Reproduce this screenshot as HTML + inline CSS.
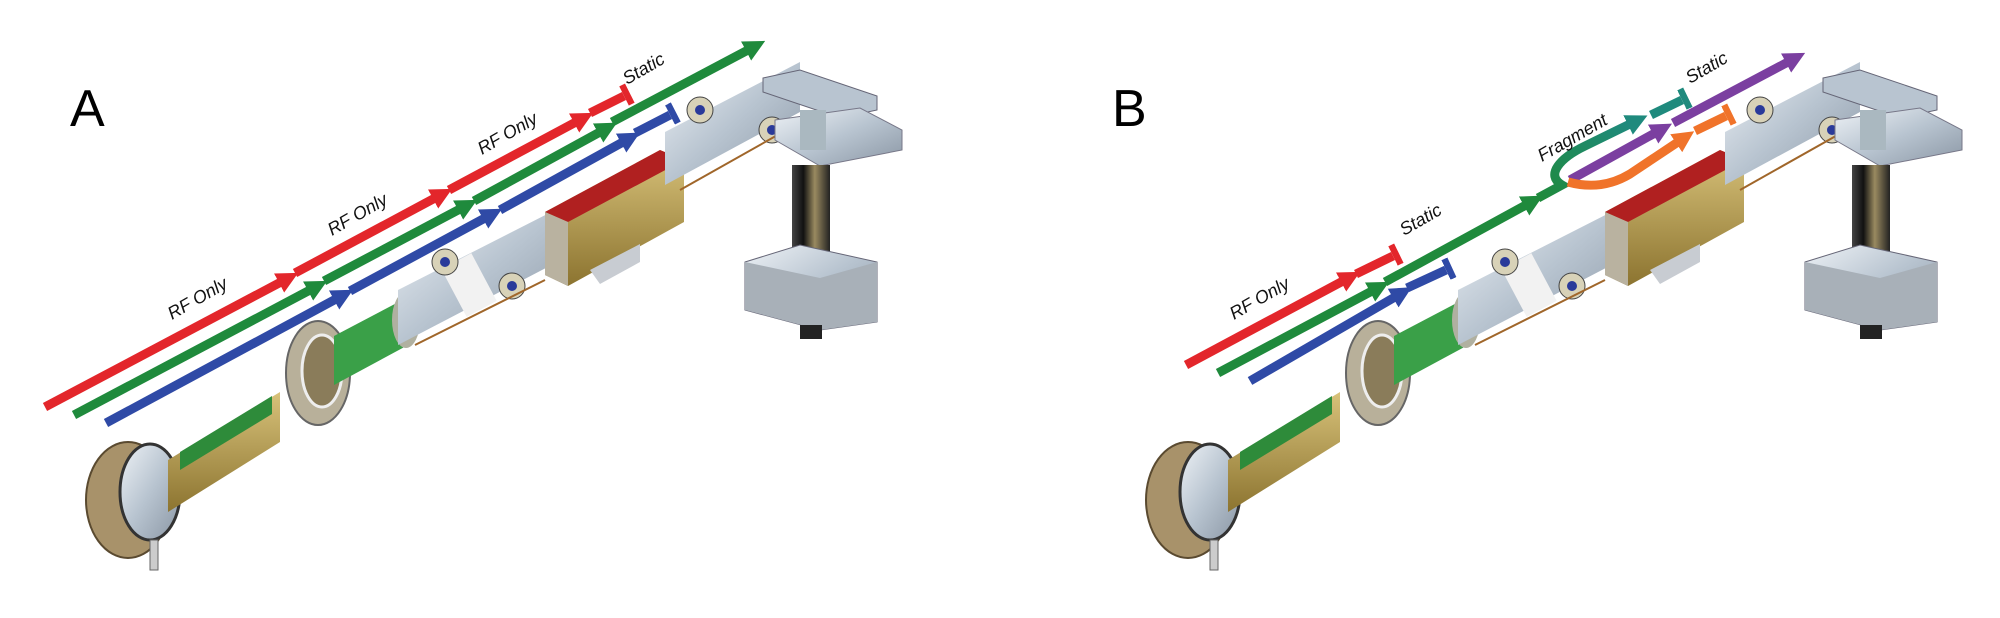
<!DOCTYPE html>
<html><head><meta charset="utf-8"><style>
html,body{margin:0;padding:0;background:#fff;}
svg{display:block;}
text{font-family:"Liberation Sans",sans-serif;}
</style></head><body>
<svg width="2000" height="618" viewBox="0 0 2000 618" xmlns="http://www.w3.org/2000/svg">
<defs>
<marker id="ar" viewBox="0 0 10 10" refX="1" refY="5" markerWidth="2.4" markerHeight="2.4" orient="auto"><path d="M0,0L10,5L0,10z" fill="#e3262b"/></marker>
<marker id="ag" viewBox="0 0 10 10" refX="1" refY="5" markerWidth="2.4" markerHeight="2.4" orient="auto"><path d="M0,0L10,5L0,10z" fill="#1f8a3c"/></marker>
<marker id="ab" viewBox="0 0 10 10" refX="1" refY="5" markerWidth="2.4" markerHeight="2.4" orient="auto"><path d="M0,0L10,5L0,10z" fill="#2f4aa6"/></marker>
<marker id="at" viewBox="0 0 10 10" refX="1" refY="5" markerWidth="2.4" markerHeight="2.4" orient="auto"><path d="M0,0L10,5L0,10z" fill="#1f8a7d"/></marker>
<marker id="ap" viewBox="0 0 10 10" refX="1" refY="5" markerWidth="2.4" markerHeight="2.4" orient="auto"><path d="M0,0L10,5L0,10z" fill="#7b3fa0"/></marker>
<marker id="ao" viewBox="0 0 10 10" refX="1" refY="5" markerWidth="2.4" markerHeight="2.4" orient="auto"><path d="M0,0L10,5L0,10z" fill="#f0732a"/></marker>
<marker id="tr" viewBox="0 0 10 10" refX="0" refY="5" markerWidth="2.4" markerHeight="2.4" orient="auto"><rect x="0" y="0" width="3" height="10" fill="#e3262b"/></marker>
<marker id="tb" viewBox="0 0 10 10" refX="0" refY="5" markerWidth="2.4" markerHeight="2.4" orient="auto"><rect x="0" y="0" width="3" height="10" fill="#2f4aa6"/></marker>
<marker id="tt" viewBox="0 0 10 10" refX="0" refY="5" markerWidth="2.4" markerHeight="2.4" orient="auto"><rect x="0" y="0" width="3" height="10" fill="#1f8a7d"/></marker>
<marker id="to" viewBox="0 0 10 10" refX="0" refY="5" markerWidth="2.4" markerHeight="2.4" orient="auto"><rect x="0" y="0" width="3" height="10" fill="#f0732a"/></marker>
<linearGradient id="gold" x1="0" y1="0" x2="0" y2="1"><stop offset="0" stop-color="#d8c27a"/><stop offset="1" stop-color="#8c7430"/></linearGradient>
<linearGradient id="silver" x1="0" y1="0" x2="1" y2="1"><stop offset="0" stop-color="#eef2f6"/><stop offset="0.5" stop-color="#b8c4d0"/><stop offset="1" stop-color="#8a96a4"/></linearGradient>
<linearGradient id="col" x1="0" y1="0" x2="1" y2="0"><stop offset="0" stop-color="#444"/><stop offset="0.3" stop-color="#111"/><stop offset="0.6" stop-color="#9a8a60"/><stop offset="1" stop-color="#222"/></linearGradient>
<linearGradient id="gt" x1="0" y1="1" x2="1" y2="0"><stop offset="0" stop-color="#1f8a3c"/><stop offset="1" stop-color="#1f8a7d"/></linearGradient>
<g id="mach">
  <!-- source -->
  <ellipse cx="128" cy="500" rx="42" ry="58" fill="#a8926a" stroke="#5a4a30" stroke-width="2"/>
  <ellipse cx="150" cy="492" rx="30" ry="48" fill="url(#silver)" stroke="#333" stroke-width="3"/>
  <rect x="150" y="540" width="8" height="30" fill="#ccc" stroke="#666"/>
  <!-- gold funnel with green board -->
  <polygon points="168,512 280,442 280,392 168,460" fill="url(#gold)"/>
  <polygon points="180,470 272,414 272,396 180,452" fill="#2e8b3a"/>
  <!-- flange -->
  <ellipse cx="318" cy="373" rx="32" ry="52" fill="#b8b09a" stroke="#666" stroke-width="2"/>
  <ellipse cx="322" cy="371" rx="20" ry="36" fill="#8a7c5a" stroke="#eee" stroke-width="3"/>
  <!-- green cylinder -->
  <polygon points="334,385 410,344 410,296 334,336" fill="#3aa048"/>
  <ellipse cx="406" cy="320" rx="14" ry="28" fill="#b0b0a0"/>
  <!-- quad 1 -->
  <polygon points="398,345 565,258 565,205 398,290" fill="url(#silver)"/>
  <rect x="452" y="258" width="34" height="54" fill="#f2f2f2" transform="rotate(-28 469 285)"/>
  <circle cx="445" cy="262" r="13" fill="#d8d2b8" stroke="#444"/><circle cx="445" cy="262" r="5" fill="#2a3a9a"/>
  <circle cx="512" cy="286" r="13" fill="#d8d2b8" stroke="#444"/><circle cx="512" cy="286" r="5" fill="#2a3a9a"/>
  <polyline points="415,345 545,280" stroke="#a0662a" stroke-width="2" fill="none"/>
  <!-- red/gold box -->
  <polygon points="545,212 660,150 684,160 684,222 568,286 545,275" fill="url(#gold)"/>
  <polygon points="545,212 660,150 684,160 568,222" fill="#b02020"/>
  <polygon points="545,212 568,222 568,286 545,275" fill="#b9b2a0"/>
  <polygon points="590,270 640,244 640,262 600,284" fill="#c8ccd2"/>
  <!-- quad 2 -->
  <polygon points="665,185 800,112 800,62 665,132" fill="url(#silver)"/>
  <circle cx="700" cy="110" r="13" fill="#d8d2b8" stroke="#444"/><circle cx="700" cy="110" r="5" fill="#2a3a9a"/>
  <circle cx="772" cy="130" r="13" fill="#d8d2b8" stroke="#444"/><circle cx="772" cy="130" r="5" fill="#2a3a9a"/>
  <polyline points="680,190 790,128" stroke="#a0662a" stroke-width="2" fill="none"/>
  <!-- detector -->
  <polygon points="763,78 800,70 877,96 877,110 840,118 763,92" fill="#b8c4d0" stroke="#667"/>
  <polygon points="775,120 860,108 902,130 902,150 820,166 775,140" fill="url(#silver)" stroke="#778"/>
  <rect x="800" y="110" width="26" height="40" fill="#aab8c0"/>
  <rect x="792" y="165" width="38" height="105" fill="url(#col)"/>
  <polygon points="745,262 800,245 877,262 877,322 820,330 745,310" fill="url(#silver)" stroke="#667"/>
  <polygon points="745,262 820,278 877,262 877,322 820,330 745,310" fill="#a8b0b8"/>
  <rect x="800" y="325" width="22" height="14" fill="#222"/>
</g>
</defs>

<!-- Panel A -->
<use href="#mach"/>
<text x="70" y="126" font-size="52">A</text>
<g stroke-width="9" fill="none">
<line x1="45" y1="407" x2="281" y2="282" stroke="#e3262b" marker-end="url(#ar)"/>
<line x1="295" y1="273" x2="435" y2="198" stroke="#e3262b" marker-end="url(#ar)"/>
<line x1="449" y1="190" x2="576" y2="122" stroke="#e3262b" marker-end="url(#ar)"/>
<line x1="590" y1="113" x2="624" y2="96" stroke="#e3262b" marker-end="url(#tr)"/>
<line x1="74" y1="415" x2="310" y2="290" stroke="#1f8a3c" marker-end="url(#ag)"/>
<line x1="324" y1="281" x2="460" y2="209" stroke="#1f8a3c" marker-end="url(#ag)"/>
<line x1="474" y1="201" x2="600" y2="132" stroke="#1f8a3c" marker-end="url(#ag)"/>
<line x1="612" y1="122" x2="748" y2="50" stroke="#1f8a3c" marker-end="url(#ag)"/>
<line x1="106" y1="423" x2="336" y2="299" stroke="#2f4aa6" marker-end="url(#ab)"/>
<line x1="350" y1="291" x2="485" y2="218" stroke="#2f4aa6" marker-end="url(#ab)"/>
<line x1="500" y1="210" x2="623" y2="142" stroke="#2f4aa6" marker-end="url(#ab)"/>
<line x1="635" y1="133" x2="670" y2="115" stroke="#2f4aa6" marker-end="url(#tb)"/>
</g>
<g font-size="18" font-style="italic" fill="#111">
<text transform="translate(172,320) rotate(-30)">RF Only</text>
<text transform="translate(332,236) rotate(-30)">RF Only</text>
<text transform="translate(482,155) rotate(-30)">RF Only</text>
<text transform="translate(627,85) rotate(-30)">Static</text>
</g>

<!-- Panel B -->
<use href="#mach" transform="translate(1060,0)"/>
<text x="1112" y="126" font-size="52">B</text>
<g stroke-width="9" fill="none">
<line x1="1186" y1="365" x2="1343" y2="281" stroke="#e3262b" marker-end="url(#ar)"/>
<line x1="1356" y1="274" x2="1393" y2="256" stroke="#e3262b" marker-end="url(#tr)"/>
<line x1="1218" y1="373" x2="1372" y2="291" stroke="#1f8a3c" marker-end="url(#ag)"/>
<line x1="1385" y1="282" x2="1526" y2="205" stroke="#1f8a3c" marker-end="url(#ag)"/>
<path d="M1538,198 L1562,185 C1545,175 1560,158 1585,146 L1630,124" stroke="url(#gt)" marker-end="url(#at)"/>
<line x1="1651" y1="115" x2="1682" y2="100" stroke="#1f8a7d" marker-end="url(#tt)"/>
<line x1="1570" y1="180" x2="1655" y2="133" stroke="#7b3fa0" marker-end="url(#ap)"/>
<line x1="1673" y1="123" x2="1788" y2="62" stroke="#7b3fa0" marker-end="url(#ap)"/>
<path d="M1568,182 C1590,188 1610,186 1630,174 L1678,142" stroke="#f0732a" marker-end="url(#ao)"/>
<line x1="1695" y1="131" x2="1726" y2="116" stroke="#f0732a" marker-end="url(#to)"/>
<line x1="1250" y1="381" x2="1395" y2="297" stroke="#2f4aa6" marker-end="url(#ab)"/>
<line x1="1407" y1="288" x2="1446" y2="270" stroke="#2f4aa6" marker-end="url(#tb)"/>
</g>
<g font-size="18" font-style="italic" fill="#111">
<text transform="translate(1234,320) rotate(-30)">RF Only</text>
<text transform="translate(1404,236) rotate(-30)">Static</text>
<text transform="translate(1542,162) rotate(-30)">Fragment</text>
<text transform="translate(1690,84) rotate(-30)">Static</text>
</g>
</svg>
</body></html>
